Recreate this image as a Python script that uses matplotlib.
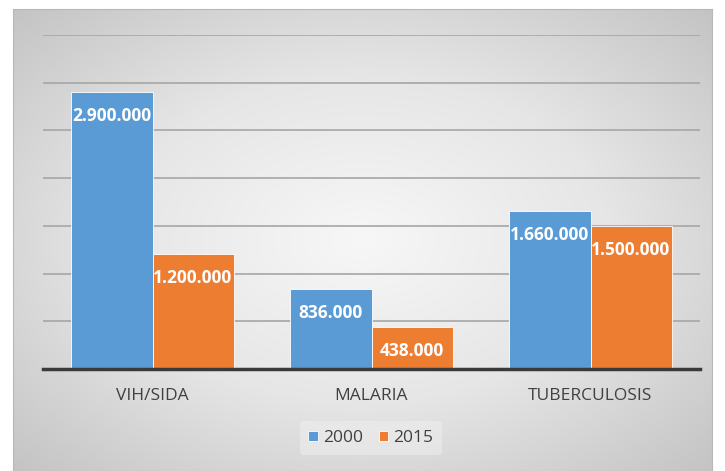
import numpy as np
import matplotlib
matplotlib.use("Agg")
import matplotlib.pyplot as plt
from matplotlib.colors import LinearSegmentedColormap

plt.rcParams['font.family'] = ['Open Sans', 'DejaVu Sans']

categories = ["VIH/SIDA", "MALARIA", "TUBERCULOSIS"]
years = ["2000", "2015"]
v2000 = [2900000, 836000, 1660000]
v2015 = [1200000, 438000, 1500000]
labels2000 = ["2.900.000", "836.000", "1.660.000"]
labels2015 = ["1.200.000", "438.000", "1.500.000"]

blue = "#5B9BD5"
orange = "#ED7D31"

W, H = 725, 471
fig = plt.figure(figsize=(W / 100, H / 100), dpi=100)
fig.patch.set_facecolor("white")

# gray radial gradient behind the chart
bg = fig.add_axes([13 / W, 0, (712 - 13) / W, 1 - 9 / H])
yy, xx = np.mgrid[-1:1:200j, -1:1:300j]
r = np.sqrt(xx ** 2 + yy ** 2) / np.sqrt(2)
grad = LinearSegmentedColormap.from_list("g", ["#f7f7f7", "#e6e6e6", "#c4c4c4"])
bg.imshow(r, cmap=grad, vmin=0, vmax=1, aspect="auto", extent=[0, 1, 0, 1])
bg.set_xlim(0, 1)
bg.set_ylim(0, 1)
for s in bg.spines.values():
    s.set_color("#b8b8b8")
bg.set_xticks([])
bg.set_yticks([])

ax = fig.add_axes([43 / W, 1 - 369 / H, (700 - 43) / W, (369 - 35) / H])
ax.patch.set_alpha(0)
x = np.arange(len(categories))
w = 0.37
b1 = ax.bar(x - w / 2, v2000, w, color=blue, edgecolor="white", linewidth=0.6, label=years[0], zorder=3)
b2 = ax.bar(x + w / 2, v2015, w, color=orange, edgecolor="white", linewidth=0.6, label=years[1], zorder=3)

for bars, labs in ((b1, labels2000), (b2, labels2015)):
    for bar, lab in zip(bars, labs):
        ax.annotate(lab, (bar.get_x() + bar.get_width() / 2, bar.get_height()),
                    xytext=(0, -24), textcoords="offset pixels", ha="center", va="center",
                    color="white", fontsize=12.5, fontweight="bold", zorder=4)

ax.set_xlim(-0.5, 2.5)
ax.set_ylim(0, 3500000)
ax.set_yticks(np.arange(0, 3500001, 500000))
ax.yaxis.grid(True, color="#a6a6a6", linewidth=1.2, zorder=0)
ax.tick_params(axis="y", left=False, labelleft=False)
ax.tick_params(axis="x", bottom=False, pad=10, labelsize=12.5, labelcolor="#404040")
ax.set_xticks(x)
ax.set_xticklabels(categories)
for side in ("top", "right", "left"):
    ax.spines[side].set_visible(False)
ax.spines["bottom"].set_color("#3a3a3a")
ax.spines["bottom"].set_linewidth(2.5)
ax.spines["bottom"].set_zorder(5)

leg = fig.legend(loc="center", bbox_to_anchor=(371 / W, 1 - 438 / H), ncol=2, frameon=True,
                 fontsize=12.5, handlelength=0.55, handleheight=0.55, handletextpad=0.3,
                 columnspacing=0.9, borderpad=0.5)
leg.get_frame().set_facecolor("#f0f0f0")
leg.get_frame().set_edgecolor("none")
leg.get_frame().set_alpha(0.5)
for t in leg.get_texts():
    t.set_color("#404040")

fig.savefig("out.png", dpi=100)
